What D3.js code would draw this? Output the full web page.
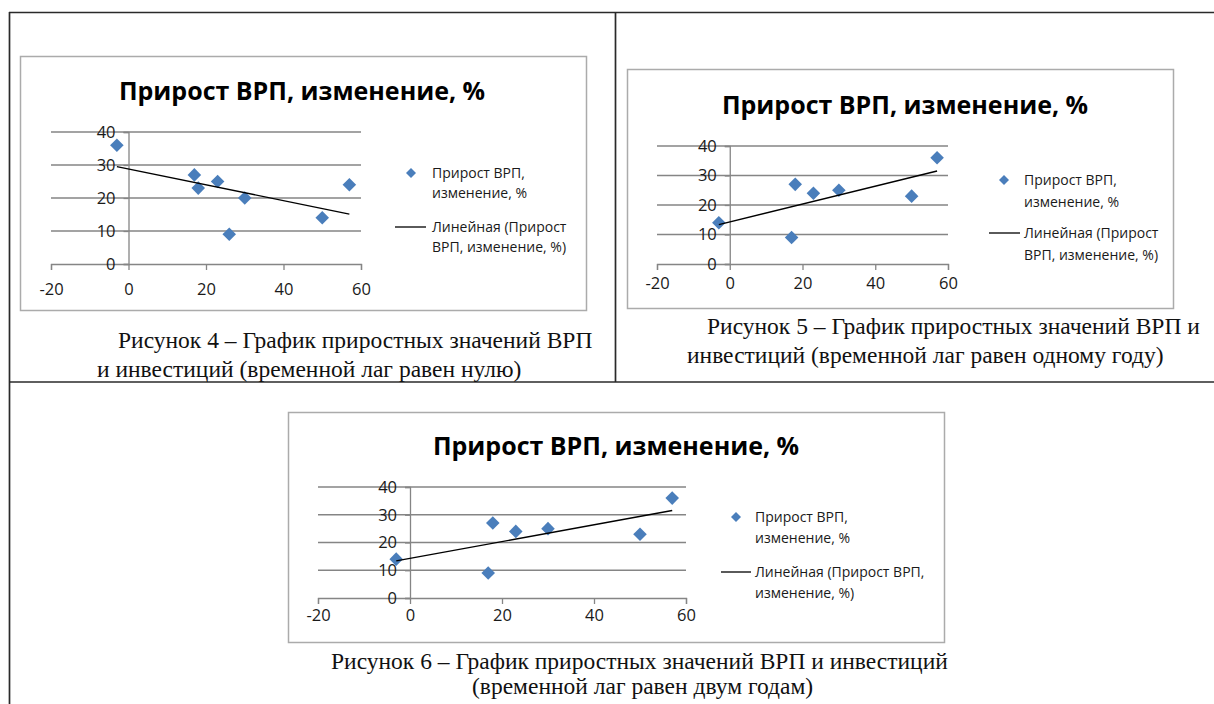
<!DOCTYPE html>
<html>
<head>
<meta charset="utf-8">
<script src="https://cdn.jsdelivr.net/npm/d3@7"></script>
<style>
  body { margin: 0; background: #fff; }
  .tick-label { font-family: "Open Sans", sans-serif; font-size: 16.5px; fill: #1a1a1a; }
  .legend-label { font-family: "Open Sans", sans-serif; font-size: 14px; fill: #1a1a1a; }
  .title { font-family: "Open Sans", sans-serif; font-weight: bold; font-size: 25px; fill: #000; }
  .caption { font-family: "Liberation Serif", "Times New Roman", serif; font-size: 23.5px; fill: #111; }
</style>
</head>
<body>
<script>
// data
var xTicks = [-20, 0, 20, 40, 60];
var yTicks = [0, 10, 20, 30, 40];

// lag = 0
var lag0X = [-3, 17, 18, 23, 30, 26, 50, 57];
var lag0Y = [36, 27, 23, 25, 20, 9, 14, 24];
// lag = 1 year
var lag1X = [-3, 17, 18, 23, 30, 50, 57];
var lag1Y = [14, 9, 27, 24, 25, 23, 36];
// lag = 2 years
var lag2X = [-3, 17, 18, 23, 30, 50, 57];
var lag2Y = [14, 9, 27, 24, 25, 23, 36];

var chartTitle = "Прирост ВРП, изменение, %";
var seriesLegend = ["Прирост ВРП,", "изменение, %"];
var trendLegendA = ["Линейная (Прирост", "ВРП, изменение, %)"];
var trendLegendB = ["Линейная (Прирост ВРП,", "изменение, %)"];

var caption4 = ["Рисунок 4 – График приростных значений ВРП", "и инвестиций (временной лаг равен нулю)"];
var caption5 = ["Рисунок 5 – График приростных значений ВРП и", "инвестиций (временной лаг равен одному году)"];
var caption6 = ["Рисунок 6 – График приростных значений ВРП и инвестиций", "(временной лаг равен двум годам)"];

var W = 1214, H = 704;

var svg = d3.select("body").append("svg")
    .attr("width", W)
    .attr("height", H);

svg.append("rect").attr("width", W).attr("height", H).attr("fill", "#fff");

// table borders of the document page
var border = svg.append("g").attr("stroke", "#2a2a2a").attr("stroke-width", 1.7);
border.append("line").attr("x1", 9).attr("x2", W).attr("y1", 12.5).attr("y2", 12.5);
border.append("line").attr("x1", 9.5).attr("x2", 9.5).attr("y1", 12).attr("y2", H);
border.append("line").attr("x1", 615.5).attr("x2", 615.5).attr("y1", 12).attr("y2", 382);
border.append("line").attr("x1", 9).attr("x2", W).attr("y1", 382).attr("y2", 382);

// layout of the three charts
var panels = [
  {xs: lag0X, ys: lag0Y, frame: [20, 56, 586, 310], xr: [51, 361], yr: [264, 132],
   titleX: 302, titleY: 100, labDy: 28,
   leg: {dx: 411, tx: 432, y: [173, 193], lx: [395, 426], ly: [227, 247]}, trendText: trendLegendA,
   cap: caption4, capPos: [[118, 348], [97, 377]]},
  {xs: lag1X, ys: lag1Y, frame: [627, 69, 1173, 308], xr: [657, 948], yr: [264, 146],
   titleX: 905, titleY: 114, labDy: 22,
   leg: {dx: 1004, tx: 1024, y: [180, 202], lx: [989, 1020], ly: [233, 255]}, trendText: trendLegendA,
   cap: caption5, capPos: [[707, 334], [687, 363]]},
  {xs: lag2X, ys: lag2Y, frame: [288, 412, 944, 642], xr: [318, 686], yr: [598, 487],
   titleX: 616, titleY: 455, labDy: 20,
   leg: {dx: 736, tx: 755, y: [517, 538], lx: [721, 751], ly: [572, 593]}, trendText: trendLegendB,
   cap: caption6, capPos: [[331, 669], [472, 694]]}
];

panels.forEach(drawPanel);

function drawPanel(p) {
  var g = svg.append("g");

  // chart area frame
  g.append("rect")
      .attr("x", p.frame[0] + 0.5).attr("y", p.frame[1] + 0.5)
      .attr("width", p.frame[2] - p.frame[0]).attr("height", p.frame[3] - p.frame[1])
      .attr("fill", "#fff").attr("stroke", "#ababab").attr("stroke-width", 1.5);

  g.append("text").attr("class", "title")
      .attr("x", p.titleX).attr("y", p.titleY)
      .attr("text-anchor", "middle")
      .text(chartTitle);

  var x = d3.scaleLinear().domain([-20, 60]).range(p.xr);
  var y = d3.scaleLinear().domain([0, 40]).range(p.yr);

  // horizontal gridlines
  g.append("g").selectAll("line")
      .data(yTicks.filter(function(d) { return d > 0; }))
      .enter().append("line")
      .attr("x1", x(-20)).attr("x2", x(60))
      .attr("y1", function(d) { return y(d); })
      .attr("y2", function(d) { return y(d); })
      .attr("stroke", "#858585").attr("stroke-width", 1.3);

  // plain hyphen for negatives, like the original
  var fmt = function(d) { return String(d); };

  // x axis (at y = 0)
  var xAxis = g.append("g")
      .attr("transform", "translate(0," + y(0) + ")")
      .call(d3.axisBottom(x).tickValues(xTicks).tickFormat(fmt).tickSize(6).tickPadding(p.labDy - 15));
  // y axis (at x = 0)
  var yAxis = g.append("g")
      .attr("transform", "translate(" + x(0) + ",0)")
      .call(d3.axisLeft(y).tickValues(yTicks).tickFormat(fmt).tickSize(5).tickPadding(8));

  [xAxis, yAxis].forEach(function(a) {
    a.select(".domain").attr("stroke", "#858585").attr("stroke-width", 1.3);
    a.selectAll(".tick line").attr("stroke", "#858585").attr("stroke-width", 1.3);
    a.selectAll(".tick text").attr("class", "tick-label").attr("fill", null)
        .attr("font-family", null).attr("font-size", null);
    a.attr("font-family", null).attr("font-size", null);
  });

  // linear trend (least squares)
  var mx = d3.mean(p.xs), my = d3.mean(p.ys);
  var sxy = d3.sum(p.xs, function(v, i) { return (v - mx) * (p.ys[i] - my); });
  var sxx = d3.sum(p.xs, function(v) { return (v - mx) * (v - mx); });
  var slope = sxy / sxx, icpt = my - slope * mx;
  var ext = d3.extent(p.xs);
  var trend = ext.map(function(v) { return [v, icpt + slope * v]; });

  var pts = p.xs.map(function(v, i) { return [v, p.ys[i]]; });

  var diamond = d3.symbol().type(d3.symbolSquare).size(92);
  g.append("g").selectAll("path")
      .data(pts)
      .enter().append("path")
      .attr("d", diamond)
      .attr("transform", function(d) { return "translate(" + x(d[0]) + "," + y(d[1]) + ") rotate(45)"; })
      .attr("fill", "#4a7ebb");

  g.append("path")
      .datum(trend)
      .attr("fill", "none")
      .attr("stroke", "#000")
      .attr("stroke-width", 1.4)
      .attr("d", d3.line().x(function(d) { return x(d[0]); }).y(function(d) { return y(d[1]); }));

  // legend
  var L = p.leg;
  g.append("path")
      .attr("d", d3.symbol().type(d3.symbolSquare).size(50))
      .attr("transform", "translate(" + L.dx + "," + L.y[0] + ") rotate(45)")
      .attr("fill", "#4a7ebb");
  seriesLegend.forEach(function(t, i) {
    g.append("text").attr("class", "legend-label")
        .attr("x", L.tx).attr("y", L.y[i]).attr("dy", "0.35em").text(t);
  });
  g.append("line")
      .attr("x1", L.lx[0]).attr("x2", L.lx[1])
      .attr("y1", L.ly[0]).attr("y2", L.ly[0])
      .attr("stroke", "#000").attr("stroke-width", 1.3);
  p.trendText.forEach(function(t, i) {
    g.append("text").attr("class", "legend-label")
        .attr("x", L.tx).attr("y", L.ly[i]).attr("dy", "0.35em").text(t);
  });

  // figure caption
  p.cap.forEach(function(t, i) {
    svg.append("text").attr("class", "caption")
        .attr("x", p.capPos[i][0]).attr("y", p.capPos[i][1])
        .text(t);
  });
}
</script>
</body>
</html>
